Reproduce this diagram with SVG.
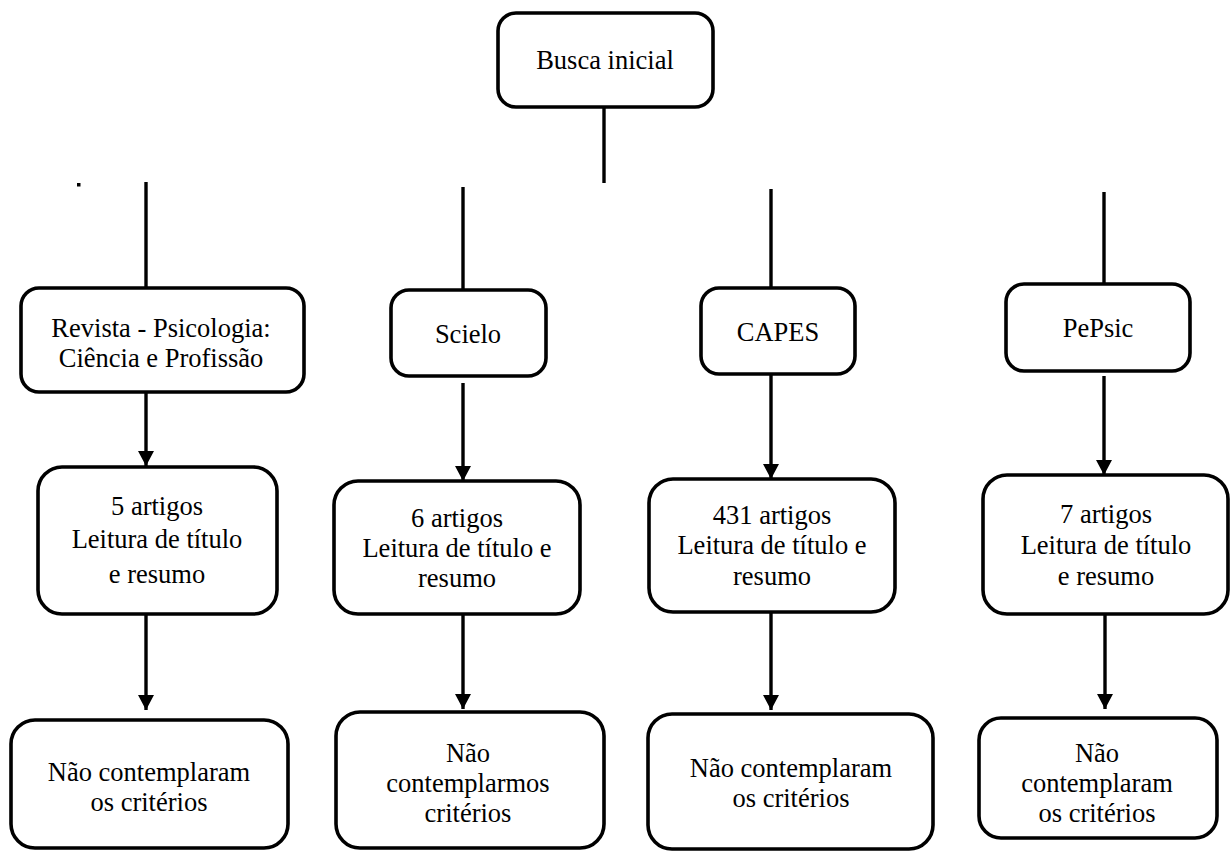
<svg xmlns="http://www.w3.org/2000/svg" width="1232" height="851" viewBox="0 0 1232 851">
<defs>
<style>
.box{fill:#fff;stroke:#000;stroke-width:3.6}
.ln{stroke:#000;stroke-width:3.4;fill:none}
.ar{stroke:#000;stroke-width:3.4;fill:none;marker-end:url(#arrow)}
.t{font-family:'Liberation Serif','DejaVu Serif',serif;font-size:26.5px;fill:#000;text-anchor:middle}
</style>
<marker id="arrow" viewBox="0 0 15 16" refX="15" refY="8" markerWidth="15" markerHeight="16" markerUnits="userSpaceOnUse" orient="auto">
<path d="M0,0 L15,8 L0,16 z" fill="#000"/>
</marker>
</defs>
<rect width="1232" height="851" fill="#fff"/>
<g id="connectors">
<line class="ln" x1="604" y1="107" x2="604" y2="183"/>
<line class="ln" x1="146" y1="182" x2="146" y2="288"/>
<line class="ln" x1="463" y1="187" x2="463" y2="290"/>
<line class="ln" x1="771" y1="189" x2="771" y2="288"/>
<line class="ln" x1="1104" y1="192" x2="1104" y2="284"/>
<line class="ar" x1="146" y1="392" x2="146" y2="466"/>
<line class="ar" x1="146" y1="614" x2="146" y2="710"/>
<line class="ar" x1="463" y1="383" x2="463" y2="481"/>
<line class="ar" x1="463" y1="614" x2="463" y2="709"/>
<line class="ar" x1="771" y1="374" x2="771" y2="479"/>
<line class="ar" x1="771" y1="612" x2="771" y2="710"/>
<line class="ar" x1="1104" y1="376" x2="1104" y2="475"/>
<line class="ar" x1="1105" y1="614" x2="1105" y2="709"/>
</g>
<rect id="dot" x="77" y="183" width="3.5" height="3.5" fill="#000"/>
<g id="busca" class="t">
<rect class="box" x="498" y="13" width="215" height="94" rx="18"/>
<text x="605" y="69">Busca inicial</text>
</g>
<g id="revista" class="t">
<rect class="box" x="21" y="288" width="283" height="104" rx="18"/>
<text x="161" y="337">Revista - Psicologia:</text>
<text x="161" y="367">Ciência e Profissão</text>
</g>
<g id="scielo" class="t">
<rect class="box" x="391" y="290" width="155" height="86" rx="18"/>
<text x="468" y="343">Scielo</text>
</g>
<g id="capes" class="t">
<rect class="box" x="701" y="288" width="154" height="86" rx="18"/>
<text x="778" y="341">CAPES</text>
</g>
<g id="pepsic" class="t">
<rect class="box" x="1006" y="284" width="184" height="87" rx="18"/>
<text x="1098" y="337">PePsic</text>
</g>
<g id="revista-artigos" class="t">
<rect class="box" x="38" y="467" width="239" height="147" rx="24"/>
<text x="157" y="515">5 artigos</text>
<text x="157" y="548">Leitura de título</text>
<text x="157" y="583">e resumo</text>
</g>
<g id="scielo-artigos" class="t">
<rect class="box" x="334" y="481" width="246" height="133" rx="24"/>
<text x="457" y="527">6 artigos</text>
<text x="457" y="557">Leitura de título e</text>
<text x="457" y="587">resumo</text>
</g>
<g id="capes-artigos" class="t">
<rect class="box" x="649" y="479" width="246" height="133" rx="24"/>
<text x="772" y="524">431 artigos</text>
<text x="772" y="554">Leitura de título e</text>
<text x="772" y="585">resumo</text>
</g>
<g id="pepsic-artigos" class="t">
<rect class="box" x="983" y="475" width="245" height="139" rx="24"/>
<text x="1106" y="523">7 artigos</text>
<text x="1106" y="554">Leitura de título</text>
<text x="1106" y="585">e resumo</text>
</g>
<g id="revista-excl" class="t">
<rect class="box" x="11" y="720" width="277" height="128" rx="24"/>
<text x="149" y="781">Não contemplaram</text>
<text x="149" y="811">os critérios</text>
</g>
<g id="scielo-excl" class="t">
<rect class="box" x="336" y="712" width="268" height="136" rx="24"/>
<text x="468" y="762">Não</text>
<text x="468" y="792">contemplarmos</text>
<text x="468" y="822">critérios</text>
</g>
<g id="capes-excl" class="t">
<rect class="box" x="648" y="714" width="285" height="135" rx="24"/>
<text x="791" y="777">Não contemplaram</text>
<text x="791" y="807">os critérios</text>
</g>
<g id="pepsic-excl" class="t">
<rect class="box" x="979" y="718" width="238" height="120" rx="22"/>
<text x="1097" y="762">Não</text>
<text x="1097" y="792">contemplaram</text>
<text x="1097" y="822">os critérios</text>
</g>
</svg>
